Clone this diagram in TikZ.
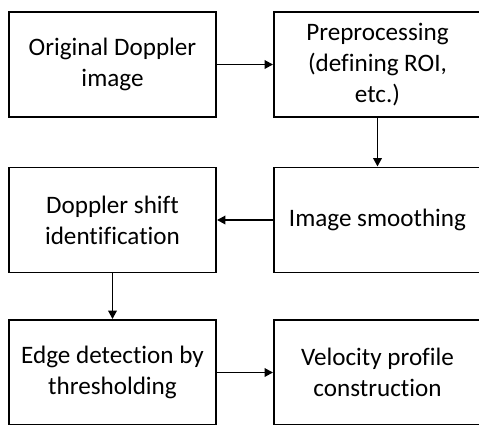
\documentclass[tikz,border=0pt]{standalone}
\usepackage{fontspec}
\setmainfont{Carlito}[Ligatures=NoCommon]
\usepackage{tikz}
\usetikzlibrary{arrows.meta, positioning}

\begin{document}
\begin{tikzpicture}[
    stage/.style={draw, line width=1.1pt, minimum width=4.14cm, minimum height=2.1cm, align=center, font=\fontsize{14.3}{17.5}\selectfont},
    flow/.style={-{Triangle[length=1.7mm, width=1.7mm]}, line width=1.1pt}
]
    \useasboundingbox (0,0) rectangle (9.58,-8.48);
    \clip (0,0) rectangle (9.58,-8.48);

    \node[stage] (orig) at (2.25,-1.29) {Original Doppler\\image};
    \node[stage] (prep) at (7.55,-1.29) {Preprocessing\\(defining ROI,\\etc.)};
    \node[stage] (shift) at (2.25,-4.40) {Doppler shift\\identification};
    \node[stage] (smooth) at (7.55,-4.40) {Image smoothing};
    \node[stage] (edge) at (2.25,-7.45) {Edge detection by\\thresholding};
    \node[stage] (velo) at (7.55,-7.45) {Velocity profile\\construction};

    \draw[flow] (orig) -- (prep);
    \draw[flow] (prep) -- (smooth);
    \draw[flow] (smooth) -- (shift);
    \draw[flow] (shift) -- (edge);
    \draw[flow] (edge) -- (velo);
\end{tikzpicture}
\end{document}
